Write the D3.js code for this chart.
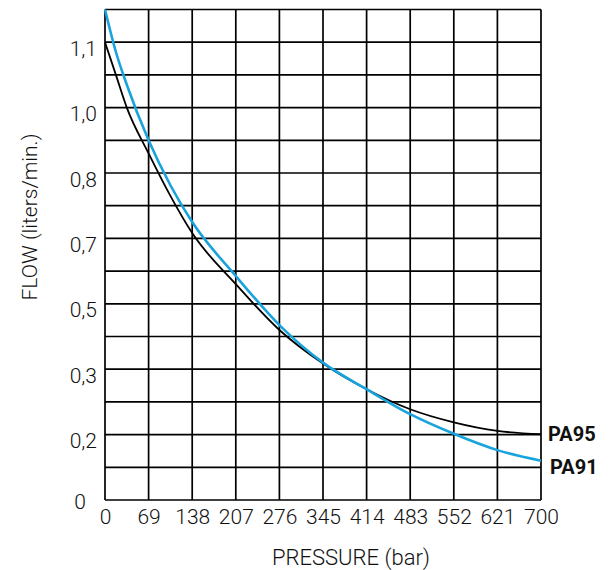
<!DOCTYPE html>
<html>
<head>
<meta charset="utf-8">
<script src="https://cdn.jsdelivr.net/npm/d3@7"></script>
<style>
  html, body { margin: 0; padding: 0; background: #fff; }
  svg { display: block; }
  text { font-family: Roboto, "Open Sans", sans-serif; fill: #111; }
</style>
</head>
<body>
<svg id="chart" width="611" height="570"></svg>
<script>
// ---- data ----
const pressureTicks = [0, 70, 140, 210, 280, 350, 420, 490, 560, 630, 700];
const pressureLabels = ["0", "69", "138", "207", "276", "345", "414", "483", "552", "621", "700"];
const flowGrid = d3.range(0, 1.2001, 0.08);
const flowTicks = [0, 0.16, 0.32, 0.48, 0.64, 0.80, 0.96, 1.12];
const flowLabels = ["0", "0,2", "0,3", "0,5", "0,7", "0,8", "1,0", "1,1"];

const pa91Pressure = [0, 17.5, 35, 70, 105, 140, 210, 280, 350, 420, 490, 560, 630, 700];
const pa91Flow     = [1.2, 1.096, 1.016, 0.88, 0.770, 0.68, 0.548, 0.428, 0.336, 0.271, 0.210, 0.162, 0.122, 0.096];

const pa95Pressure = [0, 17.5, 35, 70, 105, 140, 210, 280, 350, 420, 490, 560, 630, 700];
const pa95Flow     = [1.12, 1.04, 0.96, 0.848, 0.744, 0.653, 0.528, 0.416, 0.334, 0.271, 0.222, 0.190, 0.169, 0.161];

const seriesNames = ["PA95", "PA91"];

// ---- layout ----
const svg = d3.select("#chart");
const pLeft = 105, pRight = 541, pTop = 9.5, pBottom = 500;

const x = d3.scaleLinear().domain([0, 700]).range([pLeft, pRight]);
const y = d3.scaleLinear().domain([0, 1.2]).range([pBottom, pTop]);

// grid
const g = svg.append("g");
g.selectAll("line.v").data(pressureTicks).enter().append("line")
  .attr("x1", d => x(d)).attr("x2", d => x(d))
  .attr("y1", pTop).attr("y2", pBottom)
  .attr("stroke", "#000").attr("stroke-width", 1.7);
g.selectAll("line.h").data(flowGrid).enter().append("line")
  .attr("x1", pLeft).attr("x2", pRight)
  .attr("y1", d => y(d)).attr("y2", d => y(d))
  .attr("stroke", "#000").attr("stroke-width", 1.7);

// x tick labels via axis
const xAxis = d3.axisBottom(x).tickValues(pressureTicks)
  .tickFormat((d, i) => pressureLabels[i]).tickSize(0).tickPadding(9);
const xg = svg.append("g").attr("transform", `translate(0,${pBottom})`).call(xAxis);
xg.select(".domain").remove();
xg.selectAll("text").attr("font-size", 21).attr("font-weight", 300)
  .attr("font-family", "Roboto, sans-serif").attr("fill", "#111");

// y tick labels via axis
const yAxis = d3.axisLeft(y).tickValues(flowTicks)
  .tickFormat((d, i) => flowLabels[i]).tickSize(0).tickPadding(8);
const yg = svg.append("g").attr("transform", `translate(${pLeft},0)`).call(yAxis);
yg.select(".domain").remove();
yg.selectAll("text").attr("font-size", 21).attr("font-weight", 300)
  .attr("font-family", "Roboto, sans-serif")
  .attr("fill", "#111").attr("dy", "0.62em")
  .filter(d => d === 0).attr("dx", -11).attr("dy", "0.40em");

// curves
const line = d3.line().x(d => x(d[0])).y(d => y(d[1])).curve(d3.curveMonotoneX);
const pa95 = pa95Pressure.map((p, i) => [p, pa95Flow[i]]);
const pa91 = pa91Pressure.map((p, i) => [p, pa91Flow[i]]);

svg.append("path").datum(pa95).attr("d", line)
  .attr("fill", "none").attr("stroke", "#000").attr("stroke-width", 1.8);
svg.append("path").datum(pa91).attr("d", line)
  .attr("fill", "none").attr("stroke", "#19a3dc").attr("stroke-width", 2.6);

// series labels
svg.append("text").attr("x", x(700) + 7).attr("y", y(pa95Flow[pa95Flow.length - 1]))
  .attr("dy", "0.36em").attr("font-size", 20).attr("font-weight", "bold").text(seriesNames[0]);
svg.append("text").attr("x", x(700) + 9).attr("y", y(pa91Flow[pa91Flow.length - 1]) + 6)
  .attr("dy", "0.36em").attr("font-size", 20).attr("font-weight", "bold").text(seriesNames[1]);

// axis titles
svg.append("text").attr("x", 351).attr("y", 565)
  .attr("text-anchor", "middle").attr("font-size", 22).attr("font-weight", 300).text("PRESSURE (bar)");
svg.append("text").attr("transform", `translate(37,217) rotate(-90)`)
  .attr("text-anchor", "middle").attr("font-size", 21).attr("font-weight", 300).text("FLOW (liters/min.)");
</script>
</body>
</html>
